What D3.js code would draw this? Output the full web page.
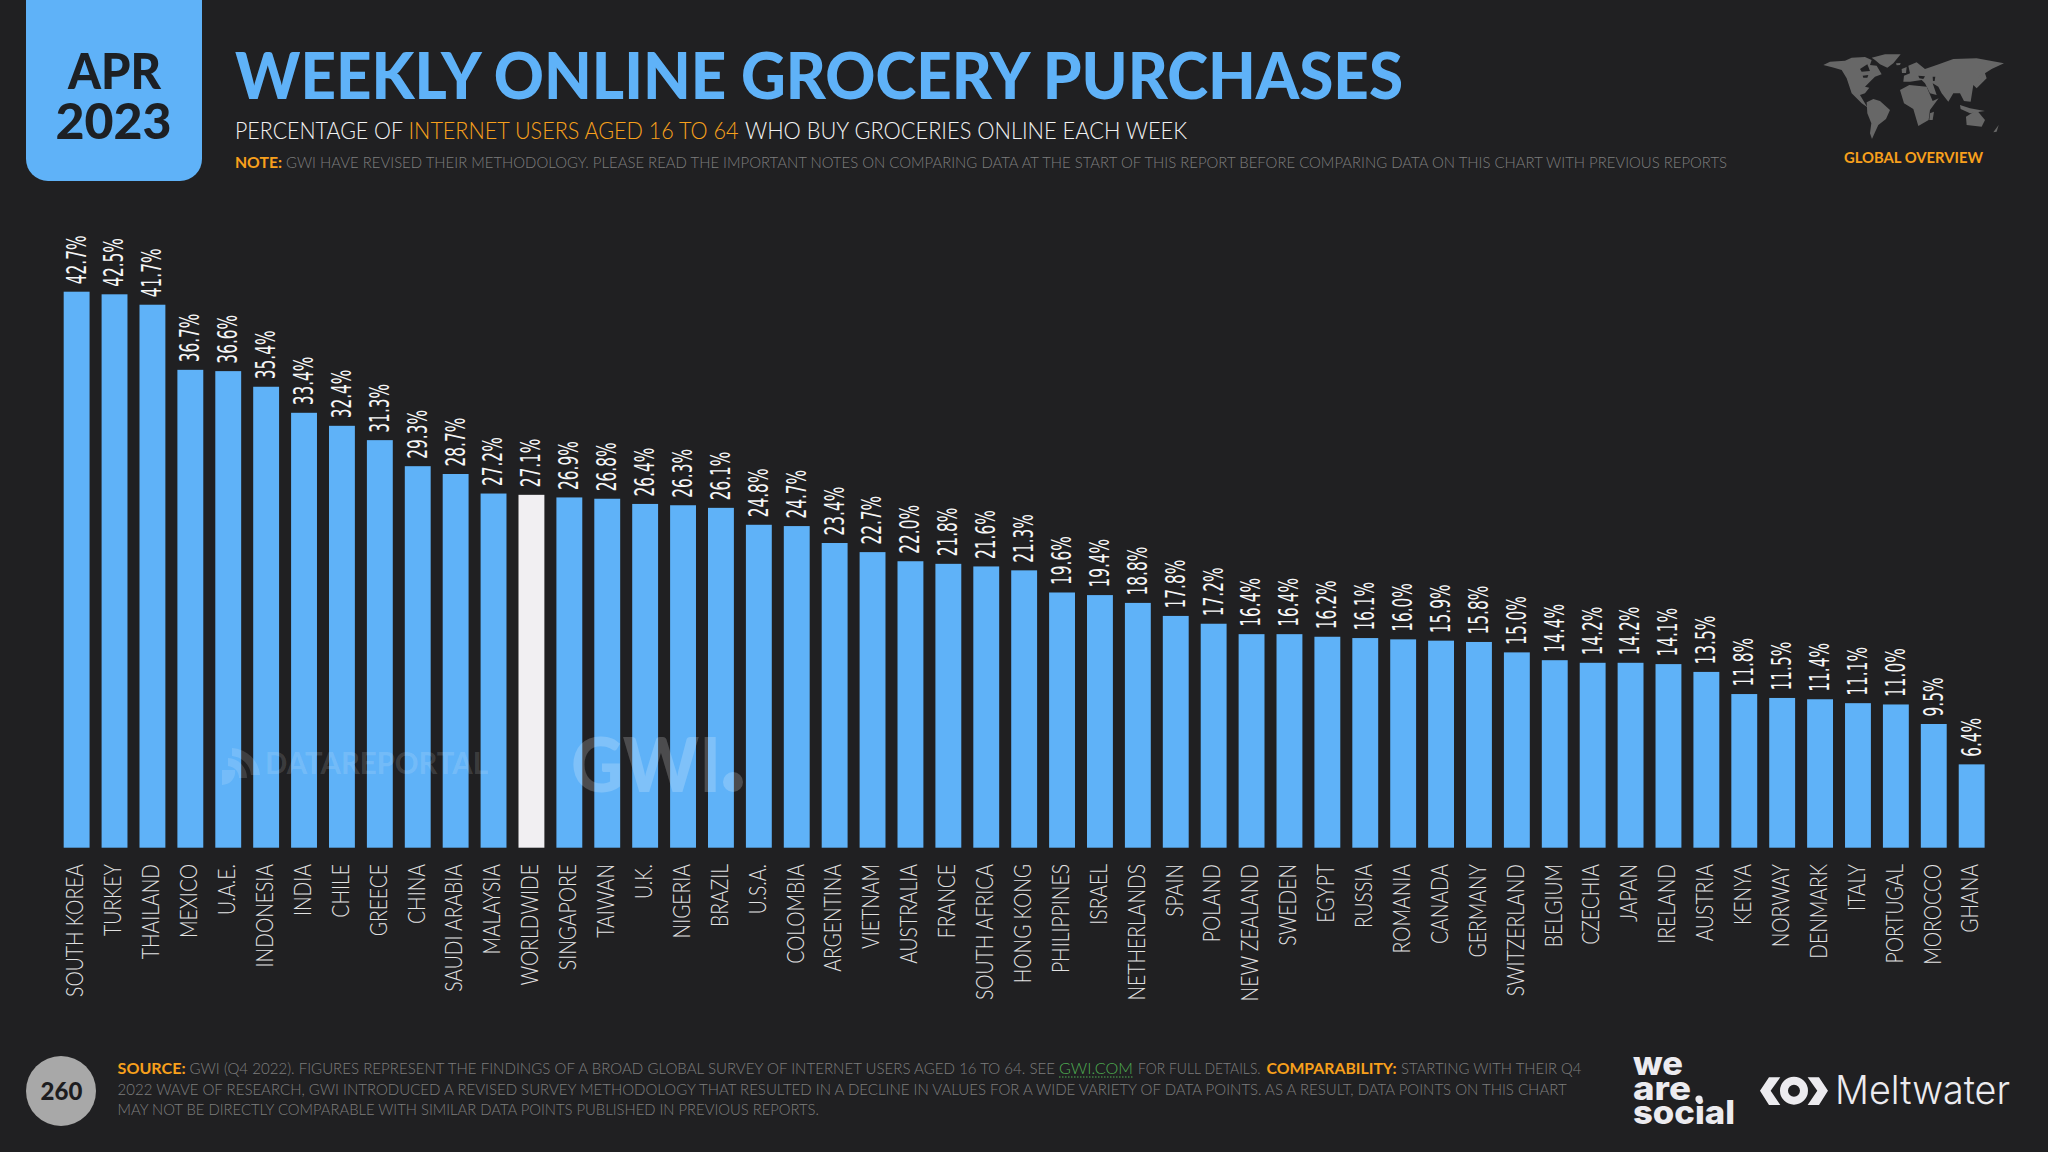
<!DOCTYPE html>
<html>
<head>
<meta charset="utf-8">
<script src="https://cdn.jsdelivr.net/npm/d3@7"></script>
<style>
  html, body { margin: 0; padding: 0; background: #202022; }
  svg { display: block; }
  text { font-family: Lato, "Open Sans", sans-serif; }
</style>
</head>
<body>
<div id="chart"></div>
<script>
const categories = ["SOUTH KOREA","TURKEY","THAILAND","MEXICO","U.A.E.","INDONESIA","INDIA","CHILE","GREECE","CHINA","SAUDI ARABIA","MALAYSIA","WORLDWIDE","SINGAPORE","TAIWAN","U.K.","NIGERIA","BRAZIL","U.S.A.","COLOMBIA","ARGENTINA","VIETNAM","AUSTRALIA","FRANCE","SOUTH AFRICA","HONG KONG","PHILIPPINES","ISRAEL","NETHERLANDS","SPAIN","POLAND","NEW ZEALAND","SWEDEN","EGYPT","RUSSIA","ROMANIA","CANADA","GERMANY","SWITZERLAND","BELGIUM","CZECHIA","JAPAN","IRELAND","AUSTRIA","KENYA","NORWAY","DENMARK","ITALY","PORTUGAL","MOROCCO","GHANA"]
const values = [42.7,42.5,41.7,36.7,36.6,35.4,33.4,32.4,31.3,29.3,28.7,27.2,27.1,26.9,26.8,26.4,26.3,26.1,24.8,24.7,23.4,22.7,22.0,21.8,21.6,21.3,19.6,19.4,18.8,17.8,17.2,16.4,16.4,16.2,16.1,16.0,15.9,15.8,15.0,14.4,14.2,14.2,14.1,13.5,11.8,11.5,11.4,11.1,11.0,9.5,6.4]
const highlighted = "WORLDWIDE"

const blue = "#5fb2f8"
const orange = "#f8a01c"
const grey = "#7e7e7e"

const width = 2048
const height = 1152

const svg = d3.select("#chart").append("svg")
    .attr("width", width)
    .attr("height", height)

svg.append("rect").attr("width", width).attr("height", height).attr("fill", "#202022")

// text squeezed to the width it has in the slide
const fit = (str, x, y, len, size, color, weight) => svg.append("text")
    .attr("x", x)
    .attr("y", y)
    .attr("textLength", len)
    .attr("lengthAdjust", "spacingAndGlyphs")
    .attr("font-size", size)
    .attr("font-weight", weight || 400)
    .attr("fill", color)
    .text(str)

// narrows rotated labels without a scale in their transform
function squeeze(sel, factor) {
    sel.each(function() {
        d3.select(this)
            .attr("textLength", this.getComputedTextLength() * factor)
            .attr("lengthAdjust", "spacingAndGlyphs")
    })
}

// date tab

svg.append("path")
    .attr("d", "M26,0H202V159a22,22 0 0 1 -22,22H48a22,22 0 0 1 -22,-22Z")
    .attr("fill", blue)
fit("APR", 68, 89, 93, 50, "#1d2024", 900)
fit("2023", 55.5, 139, 116, 50, "#1d2024", 900)

// headings

fit("WEEKLY ONLINE GROCERY PURCHASES", 235, 99, 1168, 64, blue, 900)
fit("PERCENTAGE OF", 235, 138.5, 168, 23, "#f2f2f2", 300)
fit("INTERNET USERS AGED 16 TO 64", 408.5, 138.5, 330, 23, orange, 300)
fit("WHO BUY GROCERIES ONLINE EACH WEEK", 745, 138.5, 442, 23, "#f2f2f2", 300)
fit("NOTE:", 235, 168, 47, 16, orange, 700)
fit("GWI HAVE REVISED THEIR METHODOLOGY. PLEASE READ THE IMPORTANT NOTES ON COMPARING DATA AT THE START OF THIS REPORT BEFORE COMPARING DATA ON THIS CHART WITH PREVIOUS REPORTS", 286, 168, 1441, 16, grey, 300)

// world map

const map = svg.append("g")
    .attr("transform", "translate(1810,45) scale(0.3333)")
    .attr("fill", "#676767")
const continents = [
    "M185,38 225,28 272,28 250,55 232,68 210,58 195,45Z",
    "M40,60 60,50 105,47 125,38 165,36 185,45 180,60 200,62 215,88 195,95 182,108 165,125 178,128 165,145 150,150 172,187 155,175 125,145 110,100 95,75 72,68Z",
    "M170,172 190,162 210,168 240,195 228,222 205,240 195,262 186,282 180,265 184,235 172,205Z",
    "M270,135 298,120 350,125 368,168 386,160 360,195 356,225 325,243 310,192 282,175Z",
    "M280,110 282,92 300,85 295,62 320,52 345,72 380,60 430,42 500,40 582,55 545,72 525,85 530,100 500,130 490,120 482,170 462,168 450,145 430,145 415,170 395,145 385,125 368,115 380,150 360,145 345,115 335,105 300,110Z",
    "M468,215 500,195 525,225 515,245 470,240Z",
    "M450,180 480,190 525,198 480,205 452,192Z",
    "M360,205 372,200 368,225 358,225Z",
    "M550,262 566,240 560,260Z",
    "M275,72 290,66 288,84 276,84Z",
    "M258,55 272,54 270,60 260,61Z",
    "M505,97 518,85 515,105 505,110Z"
]
const holes = [
    "M150,72 172,58 180,78 155,80Z",
    "M158,92 175,90 172,98 160,98Z",
    "M325,92 345,94 340,102 328,100Z",
    "M368,95 376,95 374,108 369,108Z"
]
map.selectAll("path.land").data(continents).join("path").attr("class", "land").attr("d", d => d)
map.selectAll("path.hole").data(holes).join("path").attr("class", "hole").attr("d", d => d).attr("fill", "#202022")
fit("GLOBAL OVERVIEW", 1844, 163, 139, 16, orange, 700)

// bars

const margin = {left: 57.7, right: 57.4, top: 291.7, bottom: 304.3}

const xScale = d3.scaleBand()
    .domain(categories)
    .range([margin.left, width - margin.right])
    .paddingInner(0.317)
    .paddingOuter(0.158)
const yScale = d3.scaleLinear()
    .domain([0, d3.max(values)])
    .range([height - margin.bottom, margin.top])

const data = categories.map((c, i) => ({category: c, value: values[i]}))

svg.append("g").selectAll("rect")
    .data(data)
    .join("rect")
    .attr("x", d => xScale(d.category))
    .attr("y", d => yScale(d.value))
    .attr("width", xScale.bandwidth())
    .attr("height", d => yScale(0) - yScale(d.value))
    .attr("fill", d => d.category === highlighted ? "#f1eff2" : blue)

// value labels

svg.append("g").selectAll("text")
    .data(data)
    .join("text")
    .attr("transform", d => `translate(${xScale(d.category) + xScale.bandwidth() / 2 - 0.5},${yScale(d.value) - 7.5}) rotate(-90)`)
    .attr("dy", "0.36em")
    .style("font-family", "'DejaVu Sans'")
    .attr("font-size", 26)
    .attr("fill", "#f6f6f6")
    .text(d => d.value.toFixed(1) + "%")
    .call(squeeze, 0.59)

// country labels

const xAxis = svg.append("g")
    .attr("transform", `translate(0,${height - margin.bottom})`)
    .call(d3.axisBottom(xScale).tickSize(0).tickPadding(0))
xAxis.select(".domain").remove()
xAxis.selectAll("text")
    .attr("transform", "translate(-1.5,16.3) rotate(-90)")
    .attr("x", 0)
    .attr("y", 0)
    .attr("dy", "0.36em")
    .attr("text-anchor", "end")
    .attr("font-size", 23)
    .attr("font-weight", 300)
    .attr("fill", "#e2e2e2")
    .style("font-family", "Lato")
    .call(squeeze, 0.84)

// watermarks

const mark = svg.append("g").attr("fill", "#fff")
mark.append("text")
    .attr("x", 265).attr("y", 774)
    .attr("textLength", 223).attr("lengthAdjust", "spacingAndGlyphs")
    .attr("font-size", 30).attr("font-weight", 700).attr("fill-opacity", 0.14)
    .text("DATAREPORTAL")
mark.append("path")
    .attr("d", "M222,770 L235,770 A13,13 0 0 1 222,785Z M232,748 A30,30 0 0 1 260,775 L251,775 A21,21 0 0 0 232,756Z M228,758 A20,20 0 0 1 247,778 L239,778 A12,12 0 0 0 228,766Z")
    .attr("fill-opacity", 0.14)
mark.append("text")
    .attr("x", 571).attr("y", 792)
    .attr("textLength", 150).attr("lengthAdjust", "spacingAndGlyphs")
    .attr("font-size", 76).attr("font-weight", 900).attr("fill-opacity", 0.2)
    .text("GWI")
mark.append("circle").attr("cx", 733).attr("cy", 782).attr("r", 10).attr("fill-opacity", 0.2)

// footer

svg.append("ellipse").attr("cx", 61).attr("cy", 1091).attr("rx", 35).attr("ry", 35).attr("fill", "#a8a8a8")
svg.append("text")
    .attr("x", 61.5).attr("y", 1100)
    .attr("text-anchor", "middle")
    .attr("font-size", 24).attr("font-weight", 900).attr("fill", "#1d1d20")
    .text("260")

fit("SOURCE:", 117.6, 1074, 68, 16, orange, 700)
fit("GWI (Q4 2022). FIGURES REPRESENT THE FINDINGS OF A BROAD GLOBAL SURVEY OF INTERNET USERS AGED 16 TO 64. SEE", 189.5, 1074, 865.5, 16, grey, 300)
fit("GWI.COM", 1059, 1074, 74, 16, "#4fae52", 300)
fit("FOR FULL DETAILS.", 1138, 1074, 122.6, 16, grey, 300)
fit("COMPARABILITY:", 1266.5, 1074, 130, 16, orange, 700)
fit("STARTING WITH THEIR Q4", 1401, 1074, 180.5, 16, grey, 300)
fit("2022 WAVE OF RESEARCH, GWI INTRODUCED A REVISED SURVEY METHODOLOGY THAT RESULTED IN A DECLINE IN VALUES FOR A WIDE VARIETY OF DATA POINTS. AS A RESULT, DATA POINTS ON THIS CHART", 117.6, 1095, 1449, 16, grey, 300)
fit("MAY NOT BE DIRECTLY COMPARABLE WITH SIMILAR DATA POINTS PUBLISHED IN PREVIOUS REPORTS.", 117.6, 1115, 701.4, 16, grey, 300)
svg.append("line").attr("x1", 1059).attr("x2", 1133).attr("y1", 1077).attr("y2", 1077)
    .attr("stroke", "#4fae52").attr("stroke-dasharray", "1.5 1.5")

// logos

const logoWhite = "#ecebef"
fit("we", 1633, 1075, 50, 33, logoWhite, 800).style("font-family", "Inter")
fit("are", 1633, 1100, 58, 33, logoWhite, 800).style("font-family", "Inter")
fit("social", 1633, 1124, 102, 33, logoWhite, 800).style("font-family", "Inter")
svg.append("circle").attr("cx", 1699).attr("cy", 1099).attr("r", 3.6).attr("fill", logoWhite)

const eye = svg.append("g").attr("transform", "translate(1620,1045) scale(0.3333)").attr("fill", logoWhite)
eye.append("path").attr("d", "M447,97H481L452,137 481,180H447L420,137Z")
eye.append("path").attr("d", "M597,97H563L592,137 563,180H597L624,137Z")
eye.append("ellipse").attr("cx", 522).attr("cy", 137).attr("rx", 30).attr("ry", 30)
    .attr("fill", "none").attr("stroke", logoWhite).attr("stroke-width", 24)
fit("Meltwater", 1835, 1104, 175, 39, logoWhite, 300).style("font-family", "Inter")
</script>
</body>
</html>
